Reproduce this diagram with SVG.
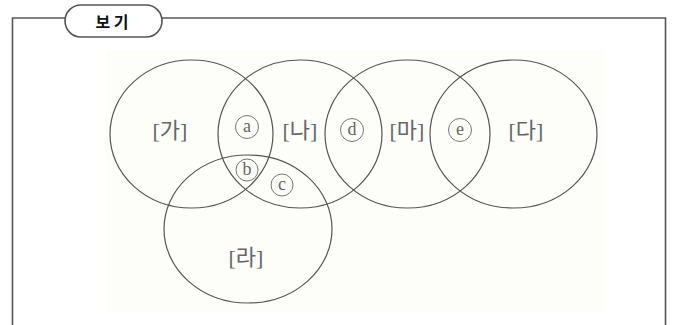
<svg xmlns="http://www.w3.org/2000/svg" width="678" height="325" viewBox="0 0 678 325">
<style>
.frame{fill:none;stroke:#555;stroke-width:1.6}
.set{fill:none;stroke:#555;stroke-width:1.2}
.lbl{font-family:"Liberation Serif","Noto Sans CJK KR",serif;font-size:22px;fill:#666;text-anchor:middle;dominant-baseline:central}
.mk circle{fill:none;stroke:#777;stroke-width:1}
.mk text{font-family:"Liberation Serif",serif;font-size:18px;fill:#666;text-anchor:middle;dominant-baseline:central}
.title{font-family:"Noto Sans CJK KR","Noto Sans",sans-serif;font-size:16px;font-weight:bold;fill:#111;text-anchor:middle;dominant-baseline:central}
</style>
<rect width="678" height="325" fill="#fff"/>
<rect x="106" y="50" width="498" height="262" fill="#fdfdfa"/>
<g id="frame">
<path class="frame" d="M12.5 325 V18 H65 M162 18 H665.5 V325"/>
<rect class="frame" x="65" y="5" width="97" height="32" rx="16" fill="#fff"/>
<text class="title" x="112" y="21">보 기</text>
</g>
<g id="connectors"></g>
<g id="set-ga"><ellipse class="set" cx="191.5" cy="134" rx="81.5" ry="74"/><text class="lbl" x="170" y="130">[가]</text></g>
<g id="set-na"><ellipse class="set" cx="300" cy="134" rx="82" ry="74"/><text class="lbl" x="300" y="130">[나]</text></g>
<g id="set-ma"><ellipse class="set" cx="407.5" cy="134" rx="82.5" ry="74"/><text class="lbl" x="407" y="130">[마]</text></g>
<g id="set-da"><ellipse class="set" cx="513.5" cy="134" rx="83.5" ry="74"/><text class="lbl" x="526" y="130">[다]</text></g>
<g id="set-ra"><ellipse class="set" cx="248" cy="229" rx="84" ry="74"/><text class="lbl" x="246" y="257">[라]</text></g>
<g id="mark-a" class="mk"><circle cx="247" cy="127" r="11.5"/><text x="247" y="126">a</text></g>
<g id="mark-b" class="mk"><circle cx="247" cy="170" r="11"/><text x="247" y="169">b</text></g>
<g id="mark-c" class="mk"><circle cx="282" cy="185" r="11"/><text x="282" y="184">c</text></g>
<g id="mark-d" class="mk"><circle cx="352" cy="130" r="11.5"/><text x="352" y="129">d</text></g>
<g id="mark-e" class="mk"><circle cx="460" cy="130" r="11.5"/><text x="460" y="129">e</text></g>
</svg>
